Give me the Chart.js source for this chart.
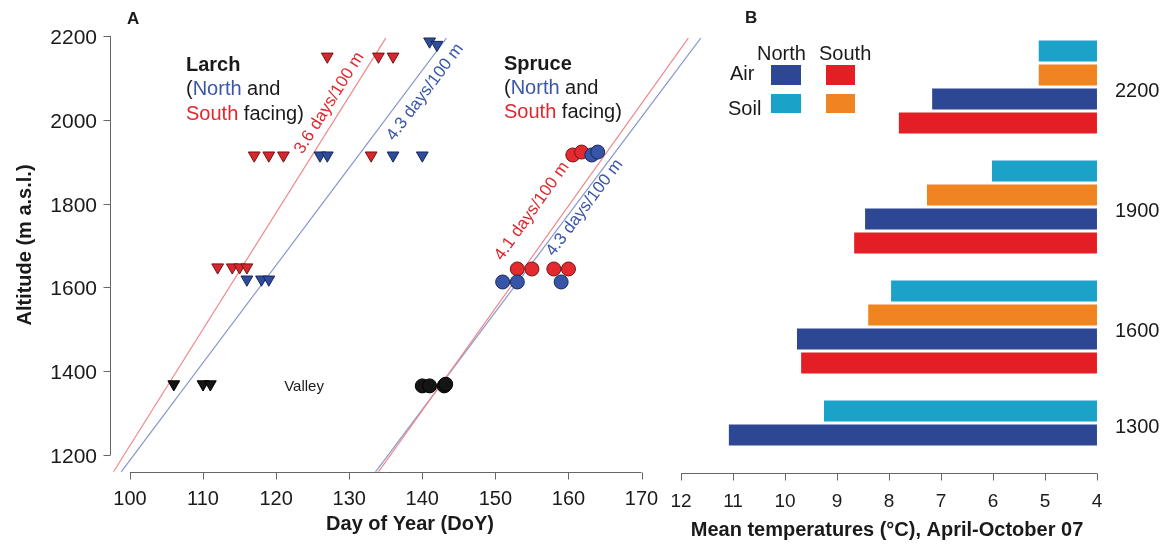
<!DOCTYPE html>
<html>
<head>
<meta charset="utf-8">
<script src="https://cdn.jsdelivr.net/npm/chart.js@4.4.1/dist/chart.umd.min.js"></script>
<style>
  html, body { margin: 0; padding: 0; background: #fff; }
  #wrap { position: relative; width: 1167px; height: 544px; overflow: hidden; }
  canvas { position: absolute; top: 0; left: 0; }
</style>
</head>
<body>
<div id="wrap">
  <canvas id="phenology" width="720" height="544" style="width:720px;height:544px"></canvas>
  <canvas id="temps" width="1167" height="544" style="width:1167px;height:544px"></canvas>
</div>
<script>
// ---- Panel A: bud burst day vs altitude ----
const dayTicks = [100, 110, 120, 130, 140, 150, 160, 170];
const altTicks = [1200, 1400, 1600, 1800, 2000, 2200];

const larchSouthDay = [127, 134, 136, 117, 119, 121, 133, 112, 114, 115, 116];
const larchSouthAlt = [2151, 2151, 2151, 1915, 1915, 1915, 1915, 1648, 1648, 1648, 1648];
const larchNorthDay = [141, 142, 126, 127, 136, 140, 116, 118, 119];
const larchNorthAlt = [2187, 2179, 1915, 1915, 1915, 1915, 1619, 1619, 1619];
const larchValleyDay = [106, 110, 111];
const larchValleyAlt = [1369, 1369, 1369];

const spruceSouthDay = [160.6, 161.8, 153, 155, 158, 160];
const spruceSouthAlt = [1916, 1923, 1644, 1644, 1644, 1644];
const spruceNorthDay = [163.2, 164, 151, 153, 159];
const spruceNorthAlt = [1916, 1923, 1613, 1613, 1613];
const spruceValleyDay = [140, 141, 143, 143.2];
const spruceValleyAlt = [1365, 1365, 1365, 1369];

// fitted lines: day at the two altitudes in fitAlt
const fitAlt = [1160, 2195];
const larchSouthFit = [97.75, 135.0];
const larchNorthFit = [98.8, 143.3];
const spruceSouthFit = [134.0, 176.4];
const spruceNorthFit = [133.6, 178.1];

// ---- Panel B: mean temperatures ----
const altLabels = ['2200', '1900', '1600', '1300'];
const northSoil = [5.12, 6.02, 7.96, 9.25];
const southSoil = [5.12, 7.27, 8.40, null];
const northAir = [7.17, 8.46, 9.77, 11.08];
const southAir = [7.81, 8.67, 9.69, null];
const tempTicks = [12, 11, 10, 9, 8, 7, 6, 5, 4];

const C = {
  red: '#D8262C', redEdge: '#6e1616',
  blue: '#2F4C9C', blueEdge: '#17285a',
  black: '#151515',
  redLine: '#F08A8A', blueLine: '#8A98CC',
  redTxt: '#E2262E', blueTxt: '#3A56A8',
  nAir: '#2E4795', sAir: '#E31E25', nSoil: '#1AA2C9', sSoil: '#EF8420',
  axis: '#666', text: '#1a1a1a'
};
const font = (size, bold) => (bold ? 'bold ' : '') + size + 'px "Liberation Sans", Arial, sans-serif';

function drawRuns(ctx, x, y, runs) {
  runs.forEach(([txt, col]) => {
    ctx.fillStyle = col;
    ctx.fillText(txt, x, y);
    x += ctx.measureText(txt).width;
  });
}

const pts = (days, alts) => days.map((d, i) => ({ x: d, y: alts[i] }));
const fitPts = fit => fit.map((d, i) => ({ x: d, y: fitAlt[i] }));

function markerSet(label, days, alts, style, fill, edge, r) {
  return {
    label, data: pts(days, alts), showLine: false, order: 1,
    pointStyle: style, rotation: style === 'triangle' ? 180 : 0,
    pointRadius: r, pointBackgroundColor: fill, pointBorderColor: edge, pointBorderWidth: 1
  };
}
function fitSet(label, fit, color) {
  return {
    type: 'line', label, data: fitPts(fit), borderColor: color, borderWidth: 1.2,
    pointRadius: 0, fill: false, clip: false, order: 2
  };
}

const slopeLabels = [
  { text: '3.6 days/100 m', color: C.redTxt, fit: larchSouthFit, day: 127.3, alt: 2040 },
  { text: '4.3 days/100 m', color: C.blueTxt, fit: larchNorthFit, day: 140.4, alt: 2066 },
  { text: '4.1 days/100 m', color: C.redTxt, fit: spruceSouthFit, day: 155.0, alt: 1782 },
  { text: '4.3 days/100 m', color: C.blueTxt, fit: spruceNorthFit, day: 162.2, alt: 1790 }
];

const phenologyDecor = {
  id: 'phenologyDecor',
  afterDraw(chart) {
    const { ctx, scales: { x, y } } = chart;
    ctx.save();
    ctx.strokeStyle = C.axis;
    ctx.lineWidth = 1;

    // x axis
    const yl = Math.round(y.bottom) + 0.5;
    ctx.beginPath();
    ctx.moveTo(x.getPixelForValue(dayTicks[0]), yl);
    ctx.lineTo(x.getPixelForValue(dayTicks[dayTicks.length - 1]), yl);
    dayTicks.forEach(v => {
      const px = Math.round(x.getPixelForValue(v)) + 0.5;
      ctx.moveTo(px, yl); ctx.lineTo(px, yl + 7);
    });
    ctx.stroke();
    ctx.fillStyle = C.text;
    ctx.font = font(20);
    ctx.textAlign = 'center';
    ctx.textBaseline = 'alphabetic';
    dayTicks.forEach(v => ctx.fillText(String(v), x.getPixelForValue(v), 505));
    ctx.font = font(20, true);
    ctx.fillText('Day of Year (DoY)', 410, 530);

    // y axis
    const xl = Math.round(x.left) + 0.5;
    ctx.beginPath();
    ctx.moveTo(xl, y.getPixelForValue(altTicks[0]));
    ctx.lineTo(xl, y.getPixelForValue(altTicks[altTicks.length - 1]));
    altTicks.forEach(v => {
      const py = Math.round(y.getPixelForValue(v)) + 0.5;
      ctx.moveTo(xl, py); ctx.lineTo(xl - 7, py);
    });
    ctx.stroke();
    ctx.font = font(21);
    ctx.textAlign = 'right';
    altTicks.forEach(v => ctx.fillText(String(v), 97, y.getPixelForValue(v) + 8));
    ctx.save();
    ctx.translate(31, 245);
    ctx.rotate(-Math.PI / 2);
    ctx.textAlign = 'center';
    ctx.font = font(20, true);
    ctx.fillText('Altitude (m a.s.l.)', 0, 0);
    ctx.restore();

    // panel letter
    ctx.textAlign = 'left';
    ctx.font = font(17, true);
    ctx.fillStyle = C.text;
    ctx.fillText('A', 127, 24);

    // species blocks
    ctx.font = font(20, true);
    ctx.fillText('Larch', 186, 71);
    ctx.fillText('Spruce', 504, 70);
    ctx.font = font(20);
    drawRuns(ctx, 186, 95, [['(', C.text], ['North', C.blueTxt], [' and', C.text]]);
    drawRuns(ctx, 186, 120, [['South', C.redTxt], [' facing)', C.text]]);
    drawRuns(ctx, 504, 94, [['(', C.text], ['North', C.blueTxt], [' and', C.text]]);
    drawRuns(ctx, 504, 118, [['South', C.redTxt], [' facing)', C.text]]);

    ctx.font = font(15);
    ctx.fillStyle = C.text;
    ctx.fillText('Valley', x.getPixelForValue(121.1), y.getPixelForValue(1353));

    // slope annotations along fitted lines
    ctx.font = font(17);
    ctx.textAlign = 'center';
    ctx.textBaseline = 'middle';
    slopeLabels.forEach(l => {
      const dx = x.getPixelForValue(l.fit[1]) - x.getPixelForValue(l.fit[0]);
      const dy = y.getPixelForValue(fitAlt[1]) - y.getPixelForValue(fitAlt[0]);
      ctx.save();
      ctx.translate(x.getPixelForValue(l.day), y.getPixelForValue(l.alt));
      ctx.rotate(Math.atan2(dy, dx));
      ctx.fillStyle = l.color;
      ctx.fillText(l.text, 0, 0);
      ctx.restore();
    });
    ctx.restore();
  }
};

new Chart(document.getElementById('phenology'), {
  type: 'scatter',
  data: {
    datasets: [
      markerSet('Spruce north', spruceNorthDay, spruceNorthAlt, 'circle', '#3755A8', C.blueEdge, 7),
      markerSet('Spruce south', spruceSouthDay, spruceSouthAlt, 'circle', '#E42A2E', C.redEdge, 7),
      markerSet('Spruce valley', spruceValleyDay, spruceValleyAlt, 'circle', C.black, '#000', 7),
      markerSet('Larch north', larchNorthDay, larchNorthAlt, 'triangle', C.blue, C.blueEdge, 6.8),
      markerSet('Larch south', larchSouthDay, larchSouthAlt, 'triangle', C.red, C.redEdge, 6.8),
      markerSet('Larch valley', larchValleyDay, larchValleyAlt, 'triangle', C.black, '#000', 6.8),
      fitSet('Larch south fit', larchSouthFit, C.redLine),
      fitSet('Larch north fit', larchNorthFit, C.blueLine),
      fitSet('Spruce south fit', spruceSouthFit, C.redLine),
      fitSet('Spruce north fit', spruceNorthFit, C.blueLine)
    ]
  },
  options: {
    responsive: false,
    animation: false,
    events: [],
    layout: { padding: { left: 109.5, right: 58, top: 19.2, bottom: 72.2 } },
    scales: {
      x: { type: 'linear', min: 97.2, max: 172.8, display: false },
      y: { type: 'linear', min: 1160, max: 2240, display: false }
    },
    plugins: { legend: { display: false }, tooltip: { enabled: false } }
  },
  plugins: [phenologyDecor]
});

// build bar slots: per altitude the available series, then a gap
const slotLabels = [], slotValues = [], slotColors = [], groupSlots = [];
altLabels.forEach((alt, i) => {
  const members = [];
  [[northSoil, C.nSoil, 'N soil'], [southSoil, C.sSoil, 'S soil'],
   [northAir, C.nAir, 'N air'], [southAir, C.sAir, 'S air']].forEach(([arr, col, name]) => {
    if (arr[i] == null) return;
    members.push(slotLabels.length);
    slotLabels.push(alt + ' ' + name);
    slotValues.push(arr[i]);
    slotColors.push(col);
  });
  groupSlots.push(members);
  if (i < altLabels.length - 1) {
    slotLabels.push('gap ' + i);
    slotValues.push(null);
    slotColors.push('rgba(0,0,0,0)');
  }
});

const tempDecor = {
  id: 'tempDecor',
  afterDraw(chart) {
    const { ctx, scales: { x, y } } = chart;
    ctx.save();
    ctx.strokeStyle = C.axis;
    ctx.lineWidth = 1;
    const yl = Math.round(y.bottom) + 26.5;
    ctx.beginPath();
    ctx.moveTo(x.getPixelForValue(tempTicks[0]), yl);
    ctx.lineTo(x.getPixelForValue(tempTicks[tempTicks.length - 1]), yl);
    tempTicks.forEach(v => {
      const px = Math.round(x.getPixelForValue(v)) + 0.5;
      ctx.moveTo(px, yl); ctx.lineTo(px, yl + 7);
    });
    ctx.stroke();

    ctx.fillStyle = C.text;
    ctx.textBaseline = 'alphabetic';
    ctx.textAlign = 'center';
    ctx.font = font(19);
    tempTicks.forEach(v => ctx.fillText(String(v), x.getPixelForValue(v), 507));
    ctx.font = font(20, true);
    ctx.fillText('Mean temperatures (\u00B0C), April-October 07', 887, 536);

    // altitude labels on the right
    ctx.textAlign = 'left';
    ctx.font = font(20);
    groupSlots.forEach((members, i) => {
      const mid = members.reduce((s, k) => s + y.getPixelForValue(k), 0) / members.length;
      ctx.fillText(altLabels[i], 1115, mid + 10);
    });

    // legend
    ctx.fillText('North', 757, 60);
    ctx.fillText('South', 819, 60);
    ctx.fillText('Air', 730, 80);
    ctx.fillText('Soil', 728, 115);
    ctx.fillStyle = C.nAir; ctx.fillRect(771, 65, 30, 20);
    ctx.fillStyle = C.sAir; ctx.fillRect(826, 65, 29, 20);
    ctx.fillStyle = C.nSoil; ctx.fillRect(771, 94, 30, 19);
    ctx.fillStyle = C.sSoil; ctx.fillRect(826, 94, 29, 19);

    ctx.fillStyle = C.text;
    ctx.font = font(17, true);
    ctx.fillText('B', 745, 23);
    ctx.restore();
  }
};

new Chart(document.getElementById('temps'), {
  type: 'bar',
  data: {
    labels: slotLabels,
    datasets: [{
      data: slotValues,
      backgroundColor: slotColors,
      base: 4,
      categoryPercentage: 1,
      barPercentage: 0.875,
      borderWidth: 0
    }]
  },
  options: {
    indexAxis: 'y',
    responsive: false,
    animation: false,
    events: [],
    layout: { padding: { left: 664.4, right: 53.4, top: 39, bottom: 97 } },
    scales: {
      x: { type: 'linear', reverse: true, min: 3.68, max: 12.32, display: false },
      y: { type: 'category', offset: true, display: false }
    },
    plugins: { legend: { display: false }, tooltip: { enabled: false } }
  },
  plugins: [tempDecor]
});
</script>
</body>
</html>
